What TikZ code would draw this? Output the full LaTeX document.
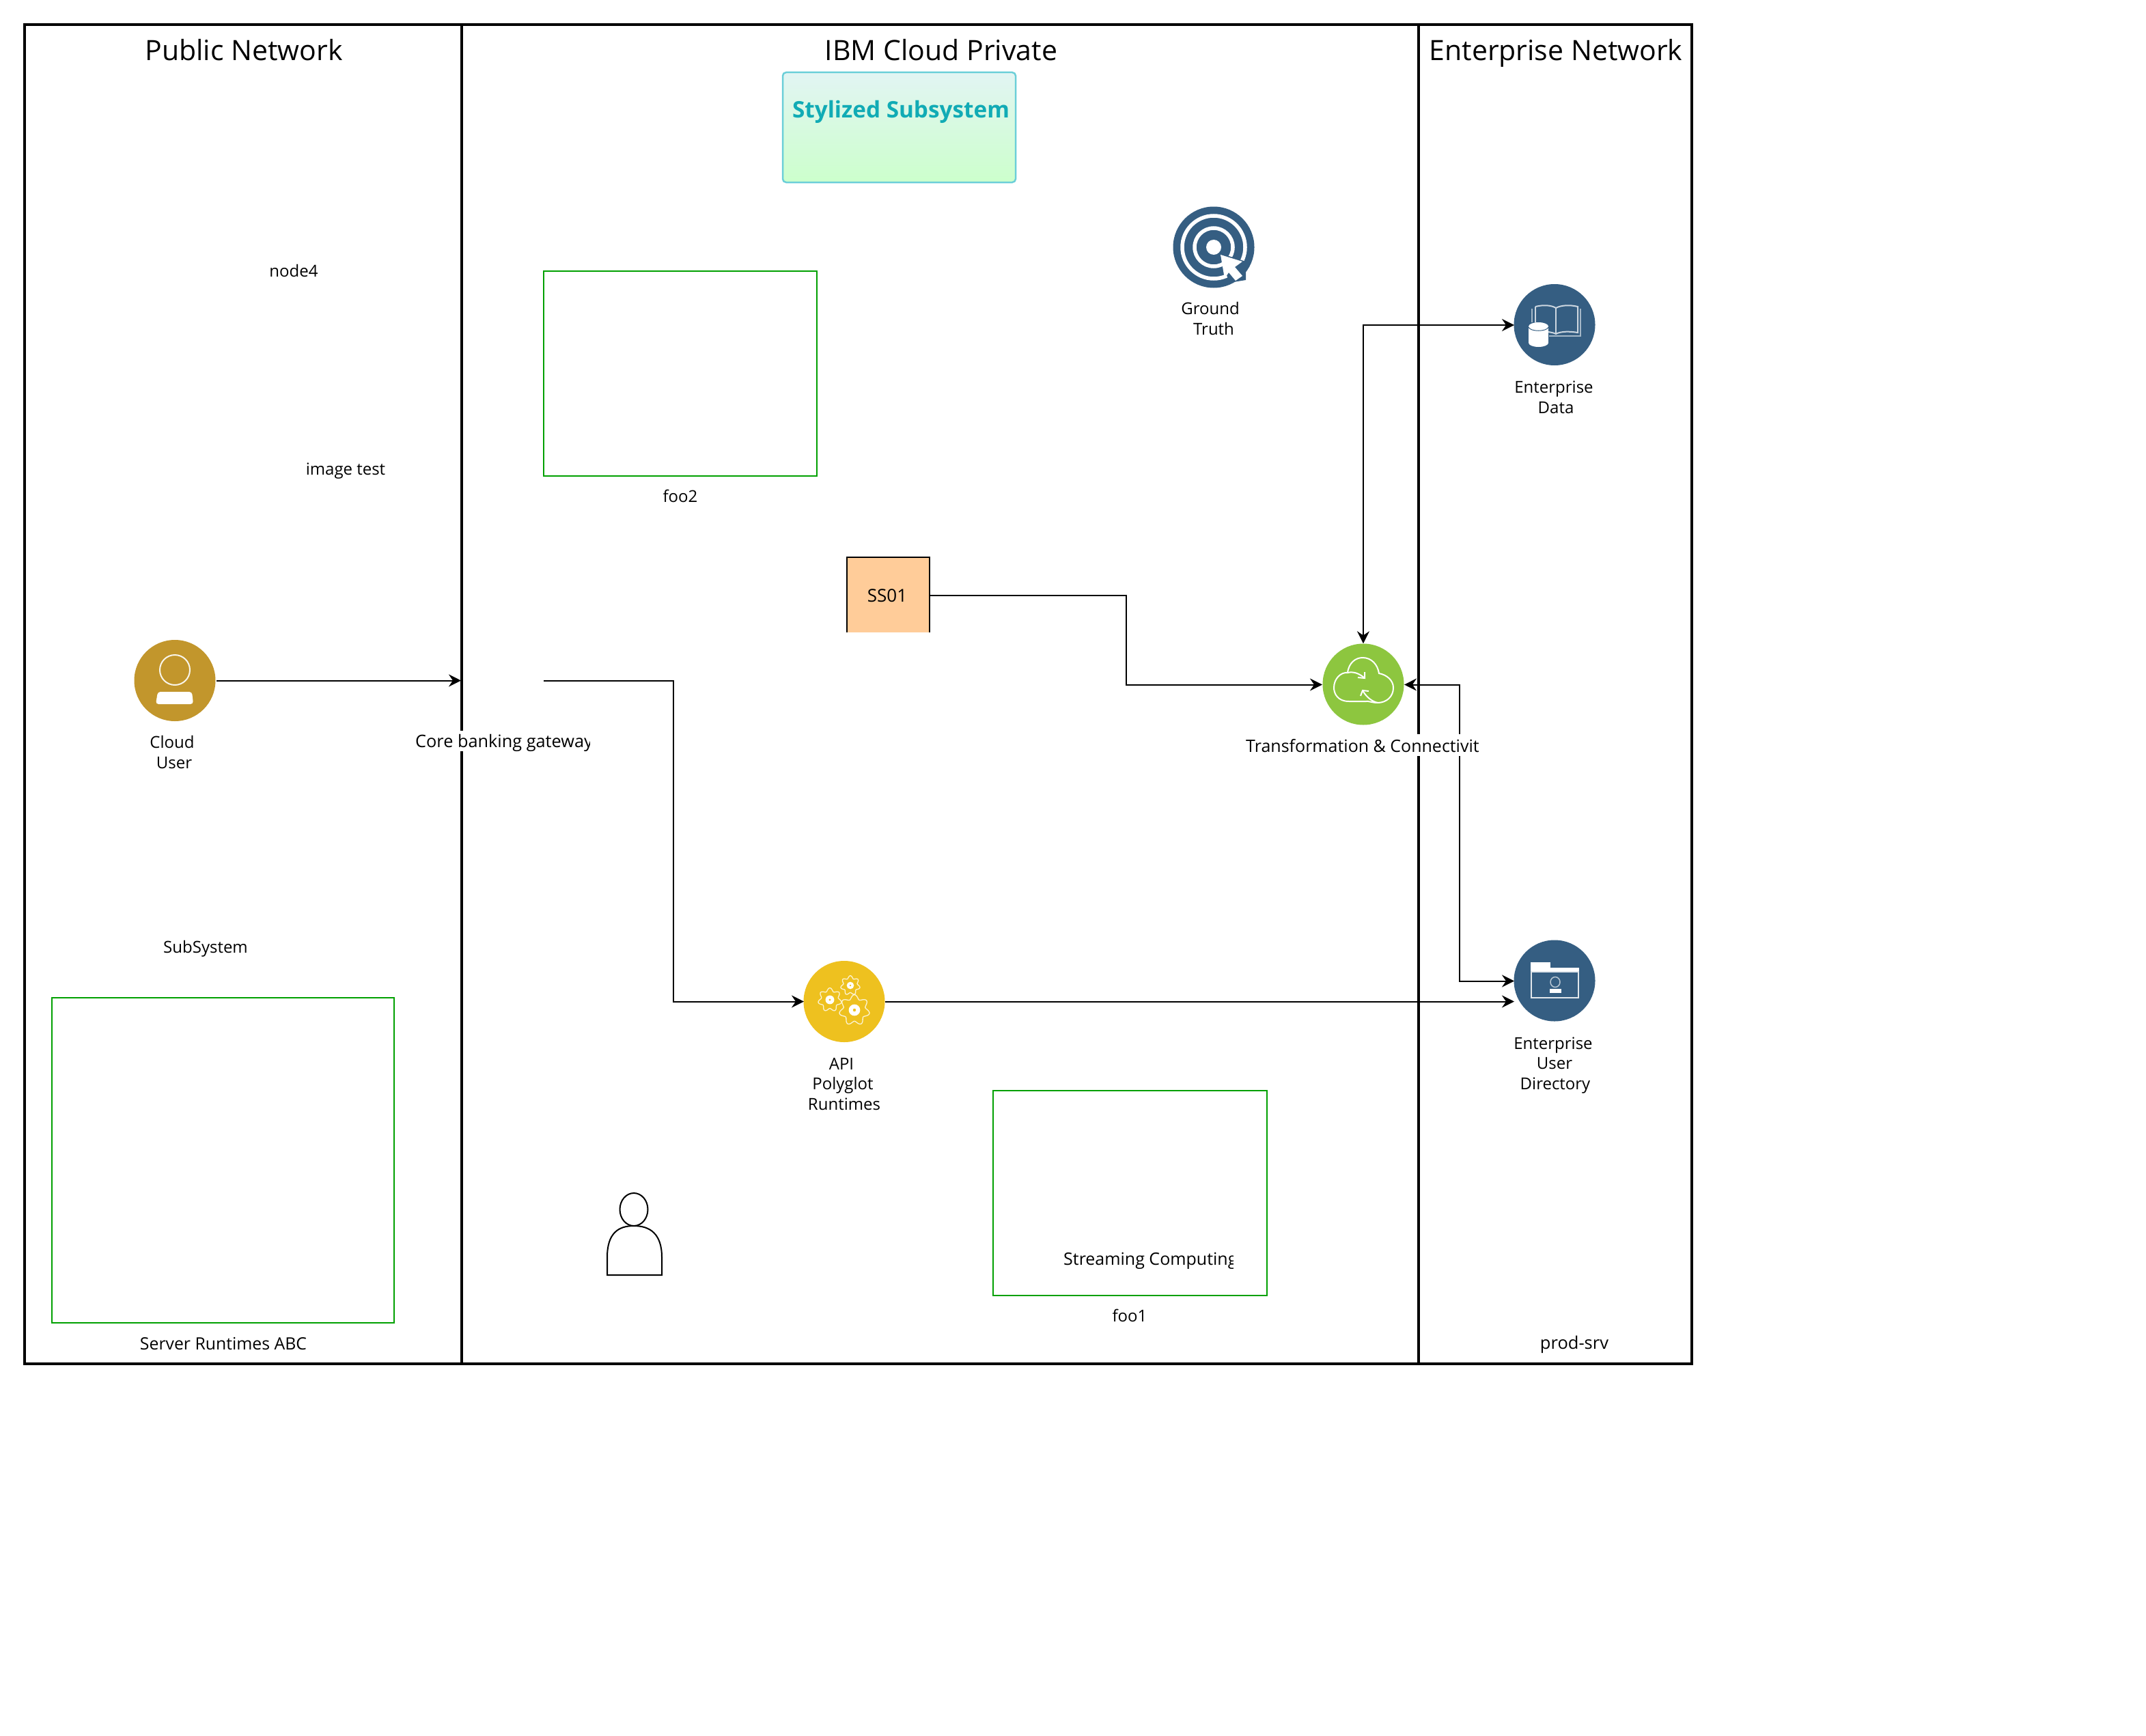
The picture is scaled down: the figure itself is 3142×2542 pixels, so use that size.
\documentclass[tikz,border=0pt]{standalone}
\usepackage{fontspec}
\setmainfont{Open Sans}
\usetikzlibrary{arrows.meta}
\definecolor{navy}{HTML}{355E82}
\definecolor{gold}{HTML}{C2962C}
\definecolor{leaf}{HTML}{8DC63F}
\definecolor{amber}{HTML}{EEC11F}
\definecolor{lanegreen}{HTML}{00A000}
\definecolor{teal1}{HTML}{11ABB5}
\definecolor{tealedge}{HTML}{6CCFD8}
\definecolor{gradtop}{HTML}{E2F5F3}
\definecolor{gradbot}{HTML}{CCFFCC}
\definecolor{peach}{HTML}{FFCC99}
\tikzset{
 x=1pt,y=-1pt,
 lane/.style={draw=black,line width=4pt},
 head/.style={font=\fontsize{41}{50}\selectfont,inner sep=0pt,anchor=center,text height=31pt,text depth=9pt},
 lbl/.style={font=\fontsize{24}{30}\selectfont,inner sep=0pt,anchor=center,text height=18pt,text depth=6pt},
 lblw/.style={lbl,font=\fontsize{25}{30}\selectfont},
 grp/.style={draw=lanegreen,line width=2pt},
 conn/.style={draw=black,line width=2pt,-{Stealth[length=18pt,width=18pt,inset=6pt]}},
 dconn/.style={draw=black,line width=2pt,{Stealth[length=18pt,width=18pt,inset=6pt]}-{Stealth[length=18pt,width=18pt,inset=6pt]}},
 icon/.style={circle,minimum size=119pt,inner sep=0pt,draw=none},
}
\begin{document}
\begin{tikzpicture}
\useasboundingbox[fill=white] (0,0) rectangle (3142,2542);
% lanes
\draw[lane] (36,36) rectangle (676,1996.5);
\draw[lane] (676,36) rectangle (2077,1996.5);
\draw[lane] (2077,36) rectangle (2477,1996.5);
\node[head] (h1) at (357,78) {Public Network};
\node[head] (h2) at (1378,78) {IBM Cloud Private};
\node[head] (h3) at (2278,78) {Enterprise Network};
% stylized
\path[rounded corners=5pt,top color=gradtop,bottom color=gradbot] (1146,106) rectangle (1487,267);
\draw[draw=tealedge,line width=2.5pt,rounded corners=5pt] (1146,106) rectangle (1487,267);
\node[font=\bfseries\fontsize{33.3}{40}\selectfont,text=teal1,inner sep=0pt] (st) at (1319,164) {Stylized Subsystem};
% groups
\draw[grp] (796,397) rectangle (1196,697);
\draw[grp] (76,1461) rectangle (577,1937);
\draw[grp] (1454,1597) rectangle (1855,1897);
\node[lbl] (foo2) at (996,729) {foo2};
\node[lbl] (foo1) at (1654,1929) {foo1};
\node[lbl,font=\fontsize{24.8}{30}\selectfont] (srv) at (327,1970) {Server Runtimes ABC};
\node[lbl,font=\fontsize{25.5}{30}\selectfont] (prod) at (2305,1969) {prod-srv};
\node[lbl] (n4) at (430,399) {node4};
\node[lbl] (img) at (506,689) {image test};
\begin{scope}\clip (200,1366) rectangle (362,1410);
\node[lbl,anchor=west] (sub) at (239,1389) {SubSystem};
\end{scope}
\begin{scope}\clip (1500,1822) rectangle (1805,1866);
\node[lblw,anchor=west] (strm) at (1557,1846) {Streaming Computing};
\end{scope}
% SS01
\fill[peach] (1240,816) rectangle (1361,926);
\draw[black,line width=2pt] (1240,926) -- (1240,816) -- (1361,816) -- (1361,926);
\node[lbl,font=\fontsize{26}{30}\selectfont] (ss) at (1299,875) {SS01};
% icons
\node[icon,fill=gold] (user) at (256,996.5) {};
\node[icon,fill=navy] (gt) at (1777,362) {};
\node[icon,fill=navy] (ed) at (2276,475.5) {};
\node[icon,fill=leaf] (tc) at (1996,1002) {};
\node[icon,fill=amber] (api) at (1236,1466.5) {};
\node[icon,fill=navy] (eud) at (2276,1436) {};
\coordinate (gwL) at (675,996.5);
\coordinate (gwR) at (796,996.5);
\coordinate (edIn) at (2217,476);
\coordinate (eud1) at (2217,1436.5);
\coordinate (eud2) at (2217,1466.5);
\coordinate (tcIn) at (1936,1002.5);
\coordinate (tcR) at (2056,1002.5);
\coordinate (apiR) at (1296,1466.5);
\coordinate (apiL) at (1177,1466.5);
\coordinate (ssR) at (1361,872);
% connectors
\draw[conn] (317,996.5) -- (gwL);
\draw[conn] (gwR) -- (986,996.5) -- (986,1466.5) -- (apiL);
\draw[conn] (ssR) -- (1649,872) -- (1649,1002.5) -- (tcIn);
\draw[dconn] (tc.north) -- (1996,476) -- (edIn);
\draw[dconn] (tcR) -- (2137,1002.5) -- (2137,1436.5) -- (eud1);
\draw[conn] (apiR) -- (eud2);
% clipped labels with white ground
\fill[white] (606,1070) rectangle (864,1100);
\begin{scope}\clip (600,1060) rectangle (863,1110);
\node[lbl,font=\fontsize{25.3}{30}\selectfont,anchor=west] (core) at (608,1088) {Core banking gateway};
\end{scope}
\fill[white] (1824,1075) rectangle (2168,1107);
\node[lblw,anchor=west] (trans) at (1824,1095) {Transformation \& Connectivit};
% icon labels
\node[lbl] (u1) at (252,1089) {Cloud};
\node[lbl] (u2) at (255,1119) {User};
\node[lbl] (g1) at (1772,454) {Ground};
\node[lbl] (g2) at (1777,484) {Truth};
\node[lbl] (d1) at (2275,569) {Enterprise};
\node[lbl] (d2) at (2278,599) {Data};
\node[lbl] (a1) at (1232,1560) {API};
\node[lbl] (a2) at (1234,1589) {Polyglot};
\node[lbl] (a3) at (1236,1619) {Runtimes};
\node[lbl] (e1) at (2274,1530) {Enterprise};
\node[lbl] (e2) at (2276,1559) {User};
\node[lbl] (e3) at (2277,1589) {Directory};
% person
\draw[black,line width=2pt] (928,1771) ellipse (20.5 and 24);
\draw[black,line width=2pt] (889,1867) -- (889,1841) .. controls (889,1806) and (905,1795) .. (928,1795) .. controls (951,1795) and (969,1806) .. (969,1841) -- (969,1867) -- cycle;
% user glyph
\draw[white!90!gold,line width=2pt] (256,981) ellipse (22 and 22);
\fill[white,rounded corners=4pt] (228,1031) -- (231,1013) -- (281,1013) -- (283,1031) -- cycle;
% target glyph
\draw[white,line width=5.5pt] (1777,362) circle (46);
\draw[white,line width=5.5pt] (1777,362) circle (28);
\fill[white] (1777,362) circle (11);
\fill[navy] (1784,370) -- (1824,383) -- (1824,410) -- (1800,414) -- cycle;
\fill[white] (1787,373) -- (1819,383) -- (1808,391) -- (1819,404) -- (1809,411) -- (1799,399) -- (1793,408) -- cycle;
% book + db glyph
\draw[white!75!navy,line width=2pt] (2248,449) .. controls (2260,446) and (2272,447) .. (2278,451) .. controls (2285,447) and (2298,446) .. (2310,449) -- (2310,487) .. controls (2298,485) and (2285,485) .. (2278,489) .. controls (2274,487) and (2272,487) .. (2267,486);
\draw[white!75!navy,line width=2pt] (2248,449) -- (2248,472) (2278,451) -- (2278,489);
\draw[white!55!navy,line width=2pt] (2243,452) -- (2243,472) (2314,452) -- (2314,492) -- (2268,492);
\fill[white] (2238,478) rectangle (2267,502);
\fill[white] (2252.5,478) ellipse (14.5 and 6);
\fill[white] (2252.5,502) ellipse (14.5 and 6);
\draw[navy,line width=1pt] (2238,479) .. controls (2240,486) and (2265,486) .. (2267,479);
% cloud glyph
\draw[white,line width=2pt] (1975,1027) .. controls (1958,1027) and (1953,1015) .. (1953,1007) .. controls (1953,994) and (1963,984) .. (1973,985) .. controls (1975,970) and (1985,963) .. (1995,963) .. controls (2008,963) and (2017,973) .. (2019,986) .. controls (2030,988) and (2040,996) .. (2040,1007) .. controls (2040,1020) and (2030,1029) .. (2017,1029) .. controls (2008,1029) and (2003,1026) .. (2000,1027) -- cycle;
\draw[white,line width=2pt] (1973,985) .. controls (1982,983) and (1990,986) .. (1998,993);
\draw[white,line width=2pt] (1988,992) -- (1998,993) -- (1998,984);
\draw[white,line width=2pt] (2017,1029) .. controls (2008,1027) and (2000,1020) .. (1995,1011);
\draw[white,line width=2pt] (1992,1019) -- (1995,1011) -- (2004,1012);
% gears glyph
\foreach \cx/\cy/\rr in {1215/1464/17,1245/1443/14,1251/1479/22}{
  \draw[white!80!amber,line width=1.3pt,shift={(\cx,\cy)}] plot[domain=0:360,samples=113,smooth] ({\x}:{\rr*(0.88+0.14*sin(7*\x))}) -- cycle;
  \fill[white] (\cx,\cy) circle ({\rr*0.38});
  \fill[amber] (\cx,\cy) circle ({\rr*0.1});
}
% folder glyph
\fill[white] (2241,1409) rectangle (2270,1418);
\fill[white] (2241,1417) rectangle (2312,1424);
\draw[white!85!navy,line width=2pt] (2242,1423) rectangle (2311,1461);
\draw[white!65!navy,line width=1.5pt] (2277,1438) ellipse (7 and 7.5);
\fill[white] (2269,1448) rectangle (2286,1454);
\end{tikzpicture}
\end{document}
